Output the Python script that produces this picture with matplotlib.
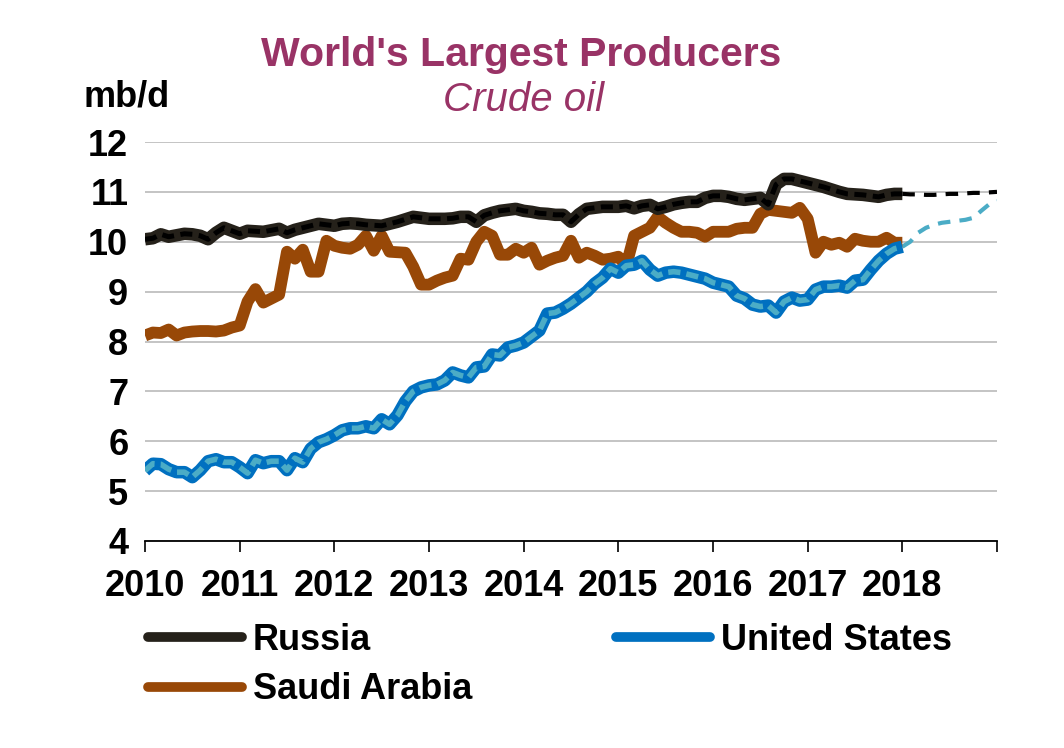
import matplotlib
matplotlib.use("Agg")
import matplotlib.pyplot as plt
import numpy as np
from matplotlib.lines import Line2D

plt.rcParams["font.family"] = ["Liberation Sans", "DejaVu Sans"]

# ── Data: monthly crude output, mb/d, Jan 2010 .. Jan 2018 ──
year_ticks = list(range(2010, 2020))
tick_labels = [str(y) for y in range(2010, 2019)] + [""]
y_ticks = list(range(4, 13))

russia = [10.05, 10.07, 10.15, 10.10, 10.13, 10.16, 10.15, 10.12, 10.05, 10.18,
          10.28, 10.22, 10.16, 10.22, 10.21, 10.20, 10.23, 10.26, 10.18, 10.24,
          10.28, 10.32, 10.36, 10.34, 10.32, 10.36, 10.37, 10.36, 10.34, 10.33,
          10.32, 10.36, 10.40, 10.45, 10.50, 10.48, 10.46, 10.46, 10.46, 10.47,
          10.50, 10.50, 10.40, 10.53, 10.58, 10.62, 10.64, 10.66, 10.62, 10.60,
          10.57, 10.56, 10.54, 10.54, 10.40, 10.55, 10.66, 10.68, 10.70, 10.70,
          10.70, 10.72, 10.67, 10.72, 10.74, 10.66, 10.70, 10.75, 10.78, 10.80,
          10.80, 10.88, 10.92, 10.92, 10.90, 10.86, 10.84, 10.86, 10.88, 10.75,
          11.15, 11.26, 11.26, 11.22, 11.18, 11.14, 11.10, 11.05, 11.00, 10.96,
          10.95, 10.94, 10.92, 10.90, 10.94, 10.96, 10.96]

saudi = [8.12, 8.18, 8.17, 8.24, 8.12, 8.18, 8.20, 8.21, 8.21, 8.20,
         8.22, 8.28, 8.32, 8.80, 9.05, 8.78, 8.86, 8.94, 9.80, 9.66,
         9.84, 9.40, 9.40, 10.02, 9.92, 9.88, 9.86, 9.94, 10.12, 9.82,
         10.12, 9.80, 9.79, 9.78, 9.50, 9.14, 9.14, 9.22, 9.28, 9.32,
         9.66, 9.64, 10.00, 10.20, 10.12, 9.74, 9.74, 9.86, 9.78, 9.88,
         9.54, 9.62, 9.68, 9.72, 10.02, 9.68, 9.78, 9.72, 9.64, 9.66,
         9.70, 9.52, 10.12, 10.20, 10.28, 10.50, 10.38, 10.28, 10.20, 10.20,
         10.18, 10.10, 10.20, 10.20, 10.20, 10.26, 10.28, 10.28, 10.56, 10.64,
         10.62, 10.60, 10.58, 10.68, 10.46, 9.78, 10.00, 9.94, 9.98, 9.90,
         10.06, 10.02, 10.00, 10.00, 10.08, 9.98, 9.98]

usa = [5.41, 5.55, 5.54, 5.44, 5.38, 5.38, 5.28, 5.42, 5.60, 5.64,
       5.58, 5.58, 5.48, 5.36, 5.62, 5.56, 5.60, 5.60, 5.42, 5.66,
       5.58, 5.85, 5.98, 6.04, 6.12, 6.22, 6.26, 6.26, 6.30, 6.26,
       6.44, 6.34, 6.52, 6.80, 7.00, 7.08, 7.12, 7.14, 7.22, 7.38,
       7.32, 7.28, 7.48, 7.50, 7.74, 7.72, 7.88, 7.92, 7.98, 8.10,
       8.22, 8.56, 8.58, 8.66, 8.76, 8.88, 9.00, 9.16, 9.28, 9.46,
       9.38, 9.52, 9.54, 9.62, 9.44, 9.32, 9.38, 9.40, 9.38, 9.34,
       9.30, 9.26, 9.18, 9.14, 9.10, 8.92, 8.86, 8.74, 8.70, 8.72,
       8.58, 8.80, 8.88, 8.82, 8.84, 9.04, 9.10, 9.10, 9.12, 9.08,
       9.22, 9.24, 9.44, 9.62, 9.76, 9.86, 9.90]

# 2018 forecast, Jan 2018 .. Jan 2019
russia_fcst = [10.96, 10.95, 10.95, 10.94, 10.94, 10.95, 10.96, 10.96, 10.97,
               10.98, 10.98, 10.99, 11.00]
usa_fcst = [9.90, 10.00, 10.18, 10.28, 10.34, 10.38, 10.40, 10.42, 10.44,
            10.48, 10.62, 10.75, 10.82]

PURPLE = "#993366"
RUSSIA_DARK = "#25211A"
SAUDI_BROWN = "#984807"
US_BLUE = "#0070C0"
US_LIGHT = "#4BACC6"


def plot_chart(path="out.png"):
    fig = plt.figure(figsize=(10.64, 7.48), dpi=100)
    ax = fig.add_axes([145 / 1064, 1 - 541 / 748, 852 / 1064, 399 / 748])

    hist_x = 2010 + np.arange(len(russia)) / 12
    fcst_x = 2018 + np.arange(len(usa_fcst)) / 12

    # forecasts (thin dashed)
    ax.plot(fcst_x, russia_fcst, color="black", lw=3, dashes=(3, 2.2),
            dash_capstyle="butt", zorder=3)
    ax.plot(fcst_x, usa_fcst, color=US_LIGHT, lw=3, dashes=(3, 2.2),
            dash_capstyle="butt", zorder=3)

    # Saudi Arabia: plain thick brown
    ax.plot(hist_x, saudi, color=SAUDI_BROWN, lw=8.5, solid_capstyle="butt", zorder=4)

    # Russia: dark thick line with black dashes on top
    ax.plot(hist_x, russia, color=RUSSIA_DARK, lw=9, solid_capstyle="butt", zorder=5)
    ax.plot(hist_x, russia, color="black", lw=3.6, dashes=(2.4, 1.3), zorder=6)

    # United States: blue thick line with light blue dashes on top
    ax.plot(hist_x, usa, color=US_BLUE, lw=9, solid_capstyle="butt", zorder=7)
    ax.plot(hist_x, usa, color=US_LIGHT, lw=4, dashes=(2.2, 1.1), zorder=8)

    ax.set_xlim(2010, 2019)
    ax.set_ylim(4, 12)
    ax.set_xticks(year_ticks)
    ax.set_xticklabels(tick_labels, fontsize=26, fontweight="bold")
    ax.set_yticks(y_ticks)
    ax.set_yticklabels([str(v) for v in y_ticks], fontsize=26, fontweight="bold")
    ax.tick_params(axis="x", direction="out", length=8, width=1.2, pad=12)
    ax.tick_params(axis="y", length=0, pad=12)

    for s in ["top", "right", "left"]:
        ax.spines[s].set_visible(False)
    ax.spines["bottom"].set_linewidth(1.3)
    ax.grid(True, axis="y", color="#BFBFBF", lw=1.3)
    ax.set_axisbelow(True)

    fig.text(521 / 1064, 1 - 55 / 748, "World's Largest Producers", ha="center",
             va="center", fontsize=29.5, fontweight="bold", color=PURPLE)
    fig.text(524 / 1064, 1 - 100 / 748, "Crude oil", ha="center", va="center",
             fontsize=29, style="italic", color=PURPLE)
    fig.text(83 / 1064, 1 - 97 / 748, "mb/d", ha="left", va="center",
             fontsize=26, fontweight="bold")

    handles = [
        Line2D([], [], color=RUSSIA_DARK, lw=7, solid_capstyle="round"),
        Line2D([], [], color=SAUDI_BROWN, lw=7, solid_capstyle="round"),
        Line2D([], [], color=US_BLUE, lw=7, solid_capstyle="round"),
    ]
    labels = ["Russia", "Saudi Arabia", "United States"]
    fig.legend(handles, labels, loc="upper left", ncol=2,
               bbox_to_anchor=(148 / 1064, 1 - 623 / 748), frameon=False,
               prop={"size": 26, "weight": "bold"}, handlelength=2.6,
               handletextpad=0.3, columnspacing=4.0, labelspacing=0.4,
               borderpad=0, borderaxespad=0)

    fig.savefig(path, dpi=100)
    plt.close(fig)


if __name__ == "__main__":
    plot_chart("out.png")
